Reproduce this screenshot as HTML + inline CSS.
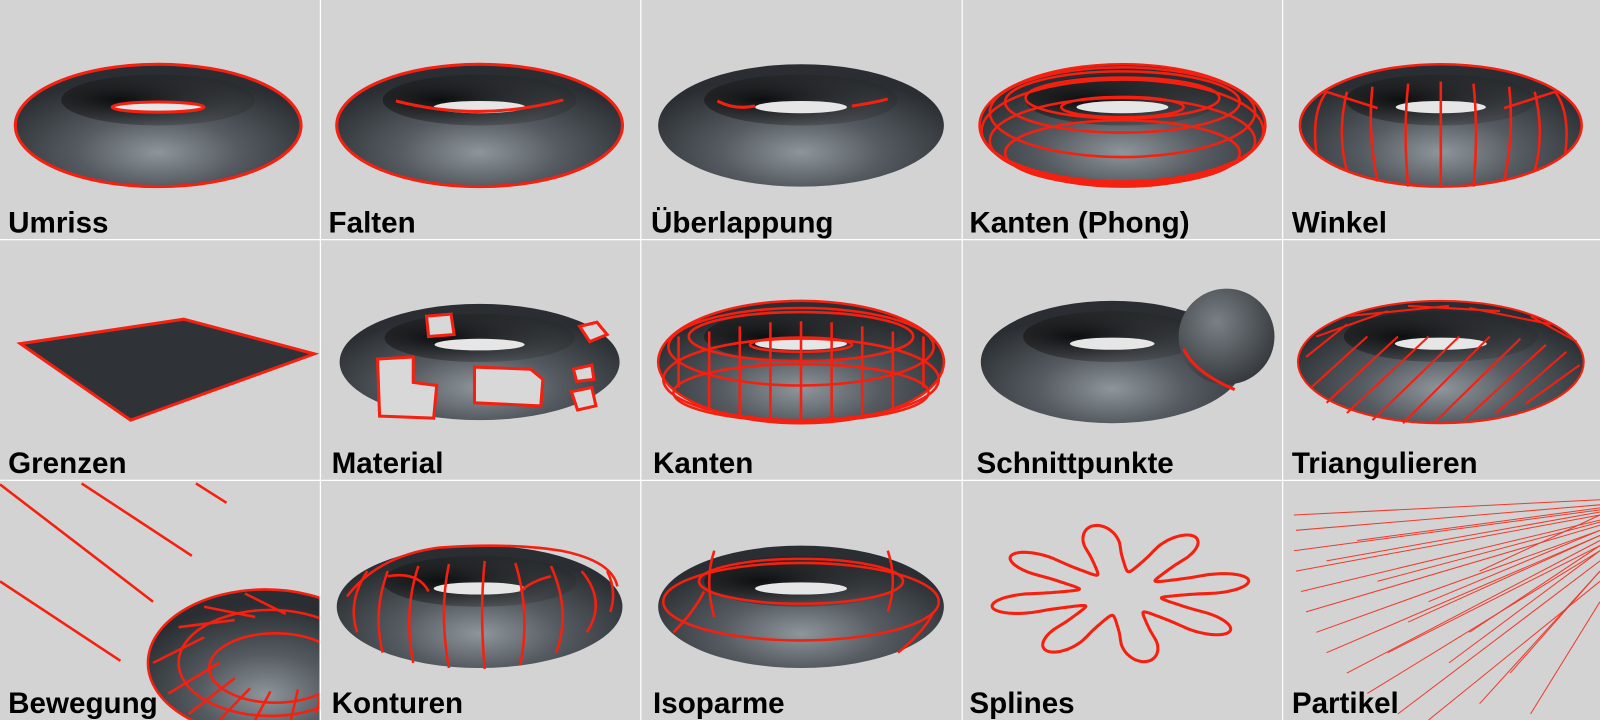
<!DOCTYPE html>
<html><head><meta charset="utf-8"><style>
html,body{margin:0;padding:0;background:#d3d3d3;overflow:hidden}
svg{display:block}
text{font-family:"Liberation Sans",sans-serif;font-weight:bold;font-size:29px;fill:#000}
</style></head><body>
<svg width="1600" height="720" viewBox="0 0 1568 706" preserveAspectRatio="none" xmlns="http://www.w3.org/2000/svg">
<defs>
<radialGradient id="tg" cx="0.5" cy="0.72" r="0.62">
<stop offset="0" stop-color="#8e959b"/><stop offset="0.45" stop-color="#555b61"/><stop offset="1" stop-color="#2a2e32"/>
</radialGradient>
<radialGradient id="sg" cx="0.4" cy="0.35" r="0.7">
<stop offset="0" stop-color="#7a8086"/><stop offset="1" stop-color="#33373b"/>
</radialGradient>
<radialGradient id="hs" cx="0.3" cy="0.5" r="0.6">
<stop offset="0" stop-color="#000" stop-opacity="0.8"/><stop offset="1" stop-color="#222" stop-opacity="0.25"/>
</radialGradient>
<clipPath id="c1"><rect x="0" y="472" width="313" height="234"/></clipPath>
<g id="torus">
<ellipse cx="0" cy="0" rx="140" ry="60" fill="url(#tg)"/>
<ellipse cx="0" cy="-25" rx="95" ry="25" fill="url(#hs)"/>
<ellipse cx="0" cy="-18" rx="45" ry="6" fill="#e6e6e6"/>
</g>
</defs>
<rect width="1568" height="706" fill="#d3d3d3"/>
<!-- row 1 -->
<use href="#torus" x="155" y="123"/>
<ellipse cx="155" cy="123" rx="140" ry="60" fill="none" stroke="#f52010" stroke-width="3"/>
<ellipse cx="155" cy="105" rx="45" ry="5" fill="none" stroke="#f52010" stroke-width="3"/>
<use href="#torus" x="470" y="123"/>
<ellipse cx="470" cy="123" rx="140" ry="60" fill="none" stroke="#f52010" stroke-width="3"/>
<path d="M388 99 Q470 120 552 98" fill="none" stroke="#f52010" stroke-width="3"/>
<use href="#torus" x="785" y="123"/>
<path d="M703 99 Q720 108 740 104" fill="none" stroke="#f52010" stroke-width="3"/>
<path d="M835 104 Q860 100 870 97" fill="none" stroke="#f52010" stroke-width="3"/>
<use href="#torus" x="1100" y="123"/>
<g fill="none" stroke="#f52010" stroke-width="2.5">
<ellipse cx="1100" cy="123" rx="140" ry="60"/><ellipse cx="1100" cy="110" rx="130" ry="44"/>
<ellipse cx="1100" cy="100" rx="115" ry="30"/><ellipse cx="1100" cy="96" rx="95" ry="20"/>
<ellipse cx="1100" cy="128" rx="138" ry="50"/><ellipse cx="1100" cy="138" rx="130" ry="42"/>
<ellipse cx="1100" cy="150" rx="115" ry="32"/><ellipse cx="1100" cy="105" rx="60" ry="10"/>
</g>
<use href="#torus" x="1412" y="123" transform="translate(1412 123) scale(0.98 1) translate(-1412 -123)"/>
<g stroke="#f52010" stroke-width="2.5" fill="none">
<ellipse cx="1412" cy="123" rx="138" ry="60"/>
<path d="M1290 150 Q1285 110 1300 90 M1320 168 Q1310 130 1320 90 M1350 178 Q1340 130 1345 85 M1380 183 Q1375 130 1380 82 M1412 184 V80 M1444 183 Q1449 130 1444 82 M1474 178 Q1484 130 1479 85 M1504 168 Q1514 130 1504 90 M1534 150 Q1539 110 1524 90 M1300 90 L1350 106 M1524 90 L1474 106"/>
</g>
<!-- row 2 -->
<polygon points="20,337 180,313 308,347 128,412" fill="#2f3337" stroke="#f52010" stroke-width="3"/>
<use href="#torus" x="470" y="355" transform="translate(470 355) scale(0.98 0.95) translate(-470 -355)"/>
<g fill="#d8d8d8" stroke="#f52010" stroke-width="3">
<path d="M370 352 L405 350 L405 375 L428 378 L425 410 L372 408 Z"/>
<path d="M465 360 L520 362 L532 372 L530 398 L465 395 Z"/>
<path d="M418 310 L442 308 L445 328 L420 330 Z"/>
<path d="M568 320 L585 316 L595 328 L578 335 Z"/>
<path d="M562 362 L580 358 L582 372 L565 374 Z"/>
<path d="M560 384 L580 380 L584 398 L566 402 Z"/>
</g>
<use href="#torus" x="785" y="355"/>
<g fill="none" stroke="#f52010" stroke-width="2.5">
<ellipse cx="785" cy="355" rx="140" ry="60"/><ellipse cx="785" cy="372" rx="135" ry="40"/><ellipse cx="785" cy="385" rx="125" ry="28"/>
<ellipse cx="785" cy="340" rx="130" ry="38"/><ellipse cx="785" cy="330" rx="110" ry="24"/><ellipse cx="785" cy="338" rx="50" ry="7"/>
<path d="M665 380 V330 M695 400 V325 M725 410 V320 M755 414 V316 M785 415 V315 M815 414 V316 M845 410 V320 M875 400 V325 M905 380 V330"/>
</g>
<use href="#torus" x="1090" y="355" transform="translate(1090 355) scale(0.92 1) translate(-1090 -355)"/>
<circle cx="1202" cy="330" r="47" fill="url(#sg)"/>
<path d="M1160 342 Q1170 365 1210 382" fill="none" stroke="#f52010" stroke-width="3"/>
<use href="#torus" x="1412" y="355"/>
<g fill="none" stroke="#f52010" stroke-width="2">
<ellipse cx="1412" cy="355" rx="140" ry="60"/>
<path d="M1285 380 L1340 330 M1300 395 L1370 330 M1320 405 L1400 330 M1345 412 L1430 330 M1375 415 L1460 330 M1405 415 L1490 332 M1435 412 L1515 338 M1465 406 L1535 345 M1495 396 L1548 358 M1280 350 L1320 318 M1290 330 L1360 305 M1320 310 L1420 300 M1380 300 L1470 305 M1440 302 L1520 318 M1500 310 L1545 335"/>
</g>
<!-- row 3 -->
<g stroke="#f52010" stroke-width="2.5">
<line x1="80" y1="474" x2="188" y2="545"/><line x1="192" y1="474" x2="222" y2="493"/>
<line x1="0" y1="570" x2="118" y2="648"/><line x1="0" y1="475" x2="150" y2="590"/>
</g>
<g clip-path="url(#c1)">
<ellipse cx="260" cy="650" rx="115" ry="72" fill="url(#tg)"/>
<g fill="none" stroke="#f52010" stroke-width="2.5">
<ellipse cx="260" cy="650" rx="115" ry="72"/><ellipse cx="265" cy="650" rx="90" ry="52"/><ellipse cx="270" cy="655" rx="65" ry="34"/>
<path d="M150 650 L200 625 M165 680 L215 650 M185 700 L230 665 M215 706 L245 675 M250 706 L265 678 M285 706 L292 676 M310 700 L314 680 M175 615 L230 608 M200 595 L250 605 M240 582 L280 602"/>
</g>
</g>
<use href="#torus" x="470" y="595"/>
<g fill="none" stroke="#f52010" stroke-width="2.5">
<path d="M340 585 Q370 545 430 537 Q500 532 550 540 Q600 550 605 575"/>
<path d="M350 620 Q340 590 360 560 M375 640 Q365 600 380 560 M405 650 Q395 600 410 555 M440 655 Q430 600 440 553 M475 656 Q470 600 475 550 M510 652 Q520 600 505 552 M545 640 Q560 600 540 555 M575 620 Q595 590 570 560 M598 600 Q605 580 595 560"/>
<path d="M380 565 Q410 560 420 580 M540 565 Q520 570 510 580"/>
</g>
<use href="#torus" x="785" y="595"/>
<g fill="none" stroke="#f52010" stroke-width="2.5">
<ellipse cx="785" cy="590" rx="135" ry="38"/><ellipse cx="785" cy="570" rx="100" ry="22"/>
<path d="M700 540 Q690 570 700 605 M870 540 Q880 570 870 600 M660 620 Q680 600 690 580 M880 640 Q905 620 915 600"/>
</g>
<path id="spl" d="" fill="none" stroke="#f52010" stroke-width="3"/>
<g stroke="#f52010" stroke-width="1" opacity="0.85">
<line x1="1268" y1="505" x2="1568" y2="490"/><line x1="1270" y1="520" x2="1568" y2="495"/><line x1="1268" y1="540" x2="1568" y2="500"/>
<line x1="1270" y1="560" x2="1568" y2="505"/><line x1="1275" y1="580" x2="1568" y2="510"/><line x1="1280" y1="600" x2="1568" y2="515"/>
<line x1="1290" y1="620" x2="1568" y2="520"/><line x1="1300" y1="640" x2="1568" y2="525"/><line x1="1320" y1="660" x2="1568" y2="530"/>
<line x1="1340" y1="680" x2="1568" y2="540"/><line x1="1370" y1="700" x2="1568" y2="550"/><line x1="1400" y1="706" x2="1568" y2="570"/>
<line x1="1330" y1="530" x2="1568" y2="498"/><line x1="1350" y1="570" x2="1568" y2="512"/><line x1="1380" y1="610" x2="1568" y2="525"/>
<line x1="1420" y1="650" x2="1568" y2="540"/><line x1="1450" y1="690" x2="1568" y2="560"/><line x1="1300" y1="550" x2="1568" y2="502"/>
<line x1="1400" y1="590" x2="1568" y2="520"/><line x1="1440" y1="620" x2="1568" y2="535"/><line x1="1480" y1="660" x2="1568" y2="560"/>
<line x1="1500" y1="700" x2="1568" y2="590"/><line x1="1360" y1="640" x2="1568" y2="535"/><line x1="1450" y1="560" x2="1568" y2="505"/>
</g>
<g stroke="#fff" stroke-width="1.2">
<line x1="314" y1="0" x2="314" y2="706"/><line x1="628" y1="0" x2="628" y2="706"/>
<line x1="943" y1="0" x2="943" y2="706"/><line x1="1257" y1="0" x2="1257" y2="706"/>
<line x1="0" y1="235" x2="1568" y2="235"/><line x1="0" y1="471" x2="1568" y2="471"/>
</g>
<!-- labels -->
<text x="8" y="228">Umriss</text><text x="322" y="228">Falten</text><text x="638" y="228">Überlappung</text>
<text x="950" y="228">Kanten (Phong)</text><text x="1266" y="228">Winkel</text>
<text x="8" y="464">Grenzen</text><text x="325" y="464">Material</text><text x="640" y="464">Kanten</text>
<text x="957" y="464">Schnittpunkte</text><text x="1266" y="464">Triangulieren</text>
<text x="8" y="699">Bewegung</text><text x="325" y="699">Konturen</text><text x="640" y="699">Isoparme</text>
<text x="950" y="699">Splines</text><text x="1266" y="699">Partikel</text>
</svg>
<script>
(function(){var cx=1098,cy=582,rx=128,ry=68,d="";for(var i=0;i<=720;i++){var t=i/720*2*Math.PI;var c=Math.cos(8*t+Math.PI/2);var r=0.66+0.34*Math.sign(c)*Math.pow(Math.abs(c),0.6);var x=cx+rx*r*Math.cos(t),y=cy+ry*r*Math.sin(t);d+=(i?"L":"M")+x.toFixed(1)+" "+y.toFixed(1);}document.getElementById("spl").setAttribute("d",d+"Z");})();
</script>
</body></html>
